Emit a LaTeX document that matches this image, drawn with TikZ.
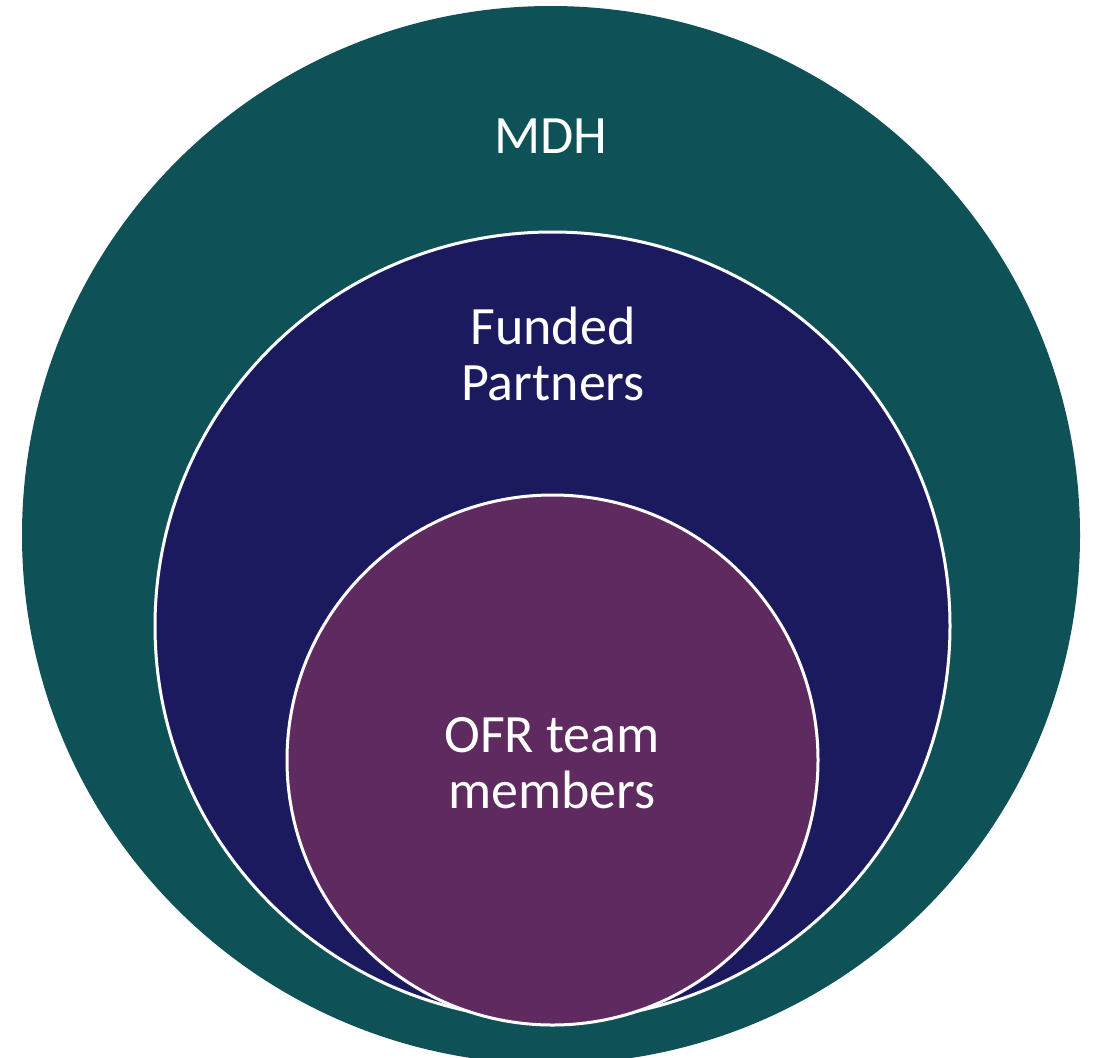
\documentclass[tikz,border=0pt]{standalone}
\usepackage{fontspec}
\setmainfont{Carlito}
\usetikzlibrary{shapes.geometric}
\definecolor{mdhteal}{HTML}{0E5257}
\definecolor{fundnavy}{HTML}{1C1A5E}
\definecolor{ofrplum}{HTML}{5E2A5F}
\begin{document}
\begin{tikzpicture}[x=1pt,y=-1pt, outer sep=0pt, inner sep=0pt,
    ring/.style={ellipse, draw=white, line width=3pt},
    lbl/.style={white, align=center, font=\fontsize{54}{56}\selectfont}]
    \useasboundingbox (0,0) rectangle (1094,1057);
    \node[ring, fill=mdhteal, draw=none, minimum width=1058pt, minimum height=1058pt] (mdh) at (551,535) {};
    \node[ring, fill=fundnavy, minimum width=795pt, minimum height=788pt] (fund) at (552.5,626) {};
    \node[ring, fill=ofrplum, minimum width=531pt, minimum height=530pt] (ofr) at (552.5,760) {};

    \node[lbl, anchor=base] (mdhlbl) at (551,153) {MDH};
    \node[lbl, anchor=base] (fundlbl) at (553,400) {Funded\\Partners};
    \node[lbl, anchor=base] (ofrlbl) at (552,808) {OFR team\\members};
\end{tikzpicture}
\end{document}
